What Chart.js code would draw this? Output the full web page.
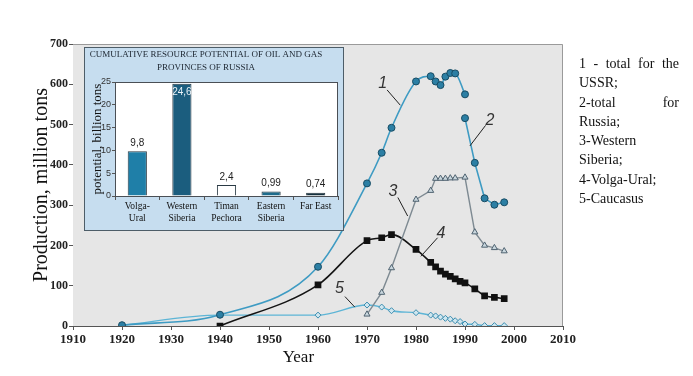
<!DOCTYPE html>
<html>
<head>
<meta charset="utf-8">
<script src="https://cdn.jsdelivr.net/npm/chart.js@4.4.1/dist/chart.umd.min.js"></script>
<style>
    html, body { margin: 0; padding: 0; background: #fff; }
    #wrap { position: relative; width: 693px; height: 376px; overflow: hidden; }
    #mainChart { position: absolute; left: 0; top: 0; }
    #inset { position: absolute; left: 84px; top: 47px; width: 260px; height: 184px; box-sizing: border-box;
        background: #c6ddef; border: 1px solid #4d5d68; }
    #notes { position: absolute; left: 579px; top: 54px; width: 100px; font-family: "Liberation Serif", serif;
        font-size: 14px; line-height: 19.3px; color: #111; }
    #notes p { margin: 0; text-align: justify; }
</style>
</head>
<body>
<div id="wrap">
    <canvas id="mainChart" width="693" height="376"></canvas>
    <div id="inset"><canvas id="insetChart" width="258" height="182"></canvas></div>
    <div id="notes">
        <p>1 - total for the USSR;</p>
        <p>2-total for Russia;</p>
        <p>3-Western Siberia;</p>
        <p>4-Volga-Ural;</p>
        <p>5-Caucasus</p>
    </div>
</div>
<script>
// production, million tons
const ussrYears = [1920, 1940, 1960, 1970, 1973, 1975, 1980, 1983, 1984, 1985, 1986, 1987, 1988, 1990];
const ussrProd = [2, 28, 147, 354, 430, 492, 607, 620, 607, 598, 619, 628, 627, 575];

const russiaYears = [1990, 1992, 1994, 1996, 1998];
const russiaProd = [516, 405, 317, 301, 307];

const wsibYears = [1970, 1973, 1975, 1980, 1983, 1984, 1985, 1986, 1987, 1988, 1990, 1992, 1994, 1996, 1998];
const wsibProd = [29, 83, 144, 314, 336, 366, 366, 366, 367, 367, 369, 233, 200, 194, 186];

const volgaYears = [1940, 1960, 1970, 1973, 1975, 1980, 1983, 1984, 1985, 1986, 1987, 1988, 1989, 1990, 1992, 1994, 1996, 1998];
const volgaProd = [0, 102, 212, 219, 227, 190, 158, 147, 136, 129, 123, 117, 111, 107, 92, 75, 71, 68];

const caucYears = [1920, 1940, 1960, 1970, 1973, 1975, 1980, 1983, 1984, 1985, 1986, 1987, 1988, 1989, 1990, 1992, 1994, 1996, 1998];
const caucProd = [2, 27, 27, 52, 47, 38, 33, 27, 25, 22, 19, 17, 13, 11, 5, 4, 1, 1, 1];

// curve numbers: label spot and leader line, in year / million tons
const callouts = [
    { text: "1", at: [1973.2, 602], from: [1974.1, 586], to: [1976.8, 548] },
    { text: "2", at: [1995.1, 511], from: [1994.2, 498], to: [1991.0, 447] },
    { text: "3", at: [1975.3, 333], from: [1976.3, 319], to: [1978.3, 273] },
    { text: "4", at: [1985.1, 230], from: [1984.4, 219], to: [1981.0, 173] },
    { text: "5", at: [1964.4, 94], from: [1965.5, 73], to: [1967.5, 47] },
];

// inset: cumulative resource potential, billion tons
const provinces = [["Volga-", "Ural"], ["Western", "Siberia"], ["Timan", "Pechora"], ["Eastern", "Siberia"], ["Far East"]];
const potential = [9.8, 24.6, 2.4, 0.99, 0.74];
const potentialText = ["9,8", "24,6", "2,4", "0,99", "0,74"];
const barFill = ["#1f7fa8", "#1b5d7e", "#ffffff", "#1e6c8c", "#16313f"];

const SERIF = "Liberation Serif";

function pts(xs, ys) {
    return xs.map((x, i) => ({ x, y: ys[i] }));
}

const plotFrame = {
    id: "plotFrame",
    beforeDatasetsDraw(chart) {
        const a = chart.chartArea, ctx = chart.ctx;
        ctx.save();
        ctx.fillStyle = "#e6e6e6";
        ctx.fillRect(a.left, a.top, a.right - a.left, a.bottom - a.top);
        ctx.strokeStyle = "#9a9a9a";
        ctx.lineWidth = 1;
        ctx.beginPath();
        ctx.moveTo(a.left, a.top + 0.5);
        ctx.lineTo(a.right - 0.5, a.top + 0.5);
        ctx.lineTo(a.right - 0.5, a.bottom);
        ctx.stroke();
        ctx.restore();
    },
    afterDatasetsDraw(chart) {
        const xs = chart.scales.x, ys = chart.scales.y, ctx = chart.ctx;
        ctx.save();
        ctx.strokeStyle = "#222";
        ctx.lineWidth = 1;
        ctx.fillStyle = "#333";
        ctx.font = "italic 16px 'Liberation Sans'";
        ctx.textAlign = "center";
        ctx.textBaseline = "middle";
        callouts.forEach(c => {
            ctx.beginPath();
            ctx.moveTo(xs.getPixelForValue(c.from[0]), ys.getPixelForValue(c.from[1]));
            ctx.lineTo(xs.getPixelForValue(c.to[0]), ys.getPixelForValue(c.to[1]));
            ctx.stroke();
            ctx.fillText(c.text, xs.getPixelForValue(c.at[0]), ys.getPixelForValue(c.at[1]));
        });
        // axis title under the years
        ctx.fillStyle = "#111";
        ctx.font = `17px '${SERIF}'`;
        ctx.fillText("Year", xs.getPixelForValue(1956), 358);
        ctx.restore();
    },
};

new Chart(document.getElementById("mainChart"), {
    type: "line",
    data: {
        datasets: [
            {
                label: "1 - total for the USSR",
                data: pts(ussrYears, ussrProd),
                borderColor: "#3e9bc3",
                borderWidth: 1.6,
                cubicInterpolationMode: "monotone",
                pointRadius: 3.5,
                pointBackgroundColor: "#2c7fa4",
                pointBorderColor: "#174c64",
                pointBorderWidth: 1,
            },
            {
                label: "2-total for Russia",
                data: pts(russiaYears, russiaProd),
                borderColor: "#3e9bc3",
                borderWidth: 1.6,
                pointRadius: 3.5,
                pointBackgroundColor: "#2c7fa4",
                pointBorderColor: "#174c64",
                pointBorderWidth: 1,
            },
            {
                label: "3-Western Siberia",
                data: pts(wsibYears, wsibProd),
                borderColor: "#7e8a92",
                borderWidth: 1.4,
                pointStyle: "triangle",
                pointRadius: 3.5,
                pointBackgroundColor: "#c9d7de",
                pointBorderColor: "#4f6270",
                pointBorderWidth: 1,
            },
            {
                label: "4-Volga-Ural",
                data: pts(volgaYears, volgaProd),
                borderColor: "#141414",
                borderWidth: 1.6,
                cubicInterpolationMode: "monotone",
                pointStyle: "rect",
                pointRadius: 3.6,
                pointBackgroundColor: "#111",
                pointBorderColor: "#111",
            },
            {
                label: "5-Caucasus",
                data: pts(caucYears, caucProd),
                borderColor: "#5db5d6",
                borderWidth: 1.4,
                cubicInterpolationMode: "monotone",
                pointStyle: "rectRot",
                pointRadius: 3,
                pointBackgroundColor: "#cfe6ef",
                pointBorderColor: "#3b8db0",
                pointBorderWidth: 1,
            },
        ],
    },
    options: {
        responsive: false,
        animation: false,
        layout: { padding: { left: 0, top: 44, right: 130, bottom: 0 } },
        plugins: { legend: { display: false }, tooltip: { enabled: false } },
        scales: {
            x: {
                type: "linear",
                min: 1910,
                max: 2010,
                afterFit: s => { s.height = 50; },
                ticks: { stepSize: 10, callback: v => String(v), color: "#222", padding: 2,
                    font: { family: SERIF, size: 13, weight: "bold" }, maxRotation: 0 },
                grid: { drawOnChartArea: false, tickLength: 4, color: "#555" },
                border: { color: "#555" },
            },
            y: {
                min: 0,
                max: 700,
                afterFit: s => { s.width = 73; },
                ticks: { stepSize: 100, color: "#222", padding: 1, font: { family: SERIF, size: 12, weight: "bold" } },
                grid: { drawOnChartArea: false, tickLength: 4, color: "#555" },
                border: { color: "#555" },
                title: { display: true, text: "Production, million tons", color: "#111",
                    font: { family: SERIF, size: 20 }, padding: { top: 30, bottom: 0 } },
            },
        },
    },
    plugins: [plotFrame],
});

const insetDecor = {
    id: "insetDecor",
    beforeDatasetsDraw(chart) {
        const a = chart.chartArea, ctx = chart.ctx;
        ctx.save();
        ctx.fillStyle = "#ffffff";
        ctx.fillRect(a.left, a.top, a.right - a.left, a.bottom - a.top);
        ctx.restore();
    },
    afterDraw(chart) {
        const a = chart.chartArea, ctx = chart.ctx;
        ctx.save();
        ctx.strokeStyle = "#4a4f55";
        ctx.lineWidth = 1;
        ctx.strokeRect(a.left + 0.5, a.top + 0.5, a.right - a.left - 1, a.bottom - a.top);
        ctx.fillStyle = "#1c2530";
        ctx.font = `9px '${SERIF}'`;
        ctx.textAlign = "center";
        ctx.textBaseline = "middle";
        ctx.fillText("CUMULATIVE RESOURCE POTENTIAL OF OIL AND GAS", 121, 7, 242);
        ctx.fillText("PROVINCES OF RUSSIA", 121, 20);
        ctx.font = "10px 'Liberation Sans'";
        chart.getDatasetMeta(0).data.forEach((bar, i) => {
            if (potential[i] > 20) {
                ctx.fillStyle = "#e8f2f8";
                ctx.fillText(potentialText[i], bar.x, bar.y + 8);
            } else {
                ctx.fillStyle = "#222";
                ctx.fillText(potentialText[i], bar.x, bar.y - 8);
            }
        });
        ctx.restore();
    },
};

new Chart(document.getElementById("insetChart"), {
    type: "bar",
    data: {
        labels: provinces,
        datasets: [{
            data: potential,
            backgroundColor: barFill,
            borderColor: "#2a3a44",
            borderWidth: 1,
            barPercentage: 0.43,
            categoryPercentage: 1,
        }],
    },
    options: {
        responsive: false,
        animation: false,
        layout: { padding: { left: 0, top: 34, right: 5, bottom: 0 } },
        plugins: { legend: { display: false }, tooltip: { enabled: false } },
        scales: {
            x: {
                afterFit: s => { s.height = 34; },
                ticks: { color: "#111", padding: 1, maxRotation: 0, autoSkip: false,
                    font: { family: SERIF, size: 9.5, lineHeight: 1.2 } },
                grid: { drawOnChartArea: false, offset: true, tickLength: 4, color: "#555" },
                border: { color: "#444" },
            },
            y: {
                min: 0,
                max: 25,
                afterFit: s => { s.width = 30; },
                ticks: { stepSize: 5, color: "#333", padding: 1, font: { family: "Liberation Sans", size: 9 } },
                grid: { drawOnChartArea: false, tickLength: 3, color: "#555" },
                border: { color: "#444" },
                title: { display: true, text: "potential, billion tons", color: "#111",
                    font: { family: SERIF, size: 13 }, padding: { top: 5, bottom: 0 } },
            },
        },
    },
    plugins: [insetDecor],
});
</script>
</body>
</html>
